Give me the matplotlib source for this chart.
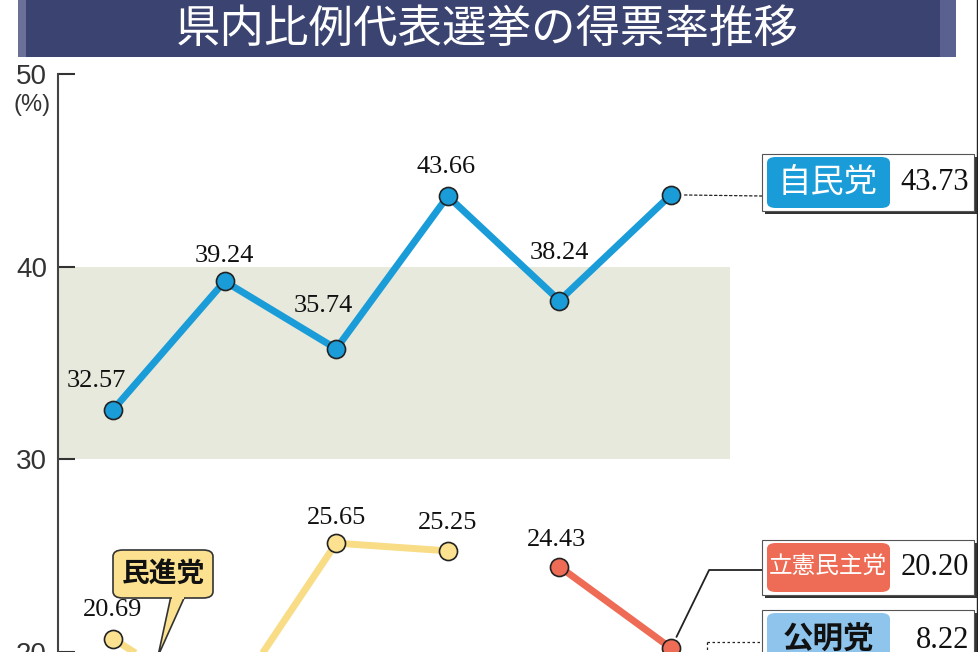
import matplotlib
matplotlib.use("Agg")
import matplotlib.pyplot as plt
from matplotlib.patches import Rectangle, FancyBboxPatch, Polygon
from matplotlib.lines import Line2D

plt.rcParams['font.family'] = ['Noto Sans CJK JP', 'DejaVu Sans']

# six elections (x positions only, no labels in the chart)
elections = [0, 1, 2, 3, 4, 5]

ldp = [32.57, 39.24, 35.74, 43.66, 38.24, 43.73]
minshin = [20.69, 17.0, 25.65, 25.25]     # 2nd value runs off the chart (estimated)
cdp = [24.43, 20.20]
komei_latest = 8.22

yticks = [20, 30, 40, 50]

title = "県内比例代表選挙の得票率推移"

# colours
C_LDP = "#1a9cd8"
C_MIN_LINE = "#f8dc86"
C_MIN_DOT = "#fce290"
C_CDP = "#ee6c55"
C_KOMEI = "#8fc4ec"
C_BAND = "#e6e9dc"
C_NAVY = "#3b4371"

W, H = 979, 652
fig = plt.figure(figsize=(W / 100, H / 100), dpi=100)


def fx(px):
    return px / W


def fy(py):
    return 1 - py / H


# axes: spine at x=58px, top (50%) at y=74px, bottom at image edge
ax = fig.add_axes([fx(58), 0, 1 - fx(58), fy(74)])
ax.set_xlim(-0.493, 7.76)
ax.set_ylim(20.206, 50)
ax.patch.set_alpha(0)
for s in ["top", "right", "bottom"]:
    ax.spines[s].set_visible(False)
ax.spines["left"].set_color("#444444")
ax.spines["left"].set_linewidth(1.5)
ax.set_xticks([])
ax.set_yticks(yticks)
ax.tick_params(axis="y", direction="in", length=12, width=1.5, color="#333333",
               pad=8, labelsize=20, labelcolor="#333333")
for lab in ax.get_yticklabels():
    lab.set_family("Liberation Sans")
ax.text(-0.56, 48.4, "(%)", ha="right", va="center", fontsize=17,
        color="#333333", family="Liberation Sans")

# shaded band 30-40
ax.axhspan(30, 40, xmin=0, xmax=(730 - 58) / 921, color=C_BAND, zorder=0, lw=0)

line_kw = dict(lw=5, marker="o", markersize=13, markeredgecolor="#222222",
               markeredgewidth=1.2, solid_capstyle="butt")
ax.plot(elections[:4], minshin, color=C_MIN_LINE, markerfacecolor=C_MIN_DOT,
        zorder=3, **line_kw)
ax.plot(elections[4:], cdp, color=C_CDP, markerfacecolor=C_CDP, zorder=3, **line_kw)
ax.plot(elections, ldp, color=C_LDP, markerfacecolor=C_LDP, zorder=4, **line_kw)

# value labels (offsets in points)
num_kw = dict(textcoords="offset points", ha="center", va="center",
              fontsize=19, family="Liberation Serif", color="#111111", zorder=5)
ldp_off = [(-12, 21), (0, 18), (-9, 31), (-1, 21), (0, 34)]
for x, v, off in zip(elections[:5], ldp[:5], ldp_off):
    ax.annotate(f"{v:.2f}", (x, v), xytext=off, **num_kw)
min_off = [(0, 21), (0, 18), (0, 20)]
for x, v, off in zip([0, 2, 3], [minshin[0], minshin[2], minshin[3]], min_off):
    ax.annotate(f"{v:.2f}", (x, v), xytext=off, **num_kw)
ax.annotate(f"{cdp[0]:.2f}", (4, cdp[0]), xytext=(-2, 19), **num_kw)


# right-hand labelled boxes
def party_box(top, bottom, name, value, color, text_color, name_size, bold=False):
    fig.add_artist(Rectangle((fx(765), fy(bottom + 3)), fx(212), fy(top) - fy(bottom),
                             transform=fig.transFigure, color="#333333", lw=0, zorder=6))
    fig.add_artist(Rectangle((fx(762), fy(bottom)), fx(212), fy(top) - fy(bottom),
                             transform=fig.transFigure, facecolor="white",
                             edgecolor="#555555", lw=0.8, zorder=7))
    fig.add_artist(FancyBboxPatch((fx(767), fy(bottom - 3)), fx(123), fy(top + 3) - fy(bottom - 3),
                                  boxstyle="round,pad=0,rounding_size=0.009",
                                  transform=fig.transFigure, color=color, lw=0, zorder=8))
    cy = fy((top + bottom) / 2)
    fig.text(fx(828), cy, name, ha="center", va="center", color=text_color,
             fontsize=name_size, weight="bold" if bold else "normal", zorder=9)
    fig.text(fx(969), cy, value, ha="right", va="center", color="#111111",
             fontsize=22, family="Liberation Serif", zorder=9)


party_box(154, 211, "自民党", f"{ldp[-1]:.2f}", C_LDP, "white", 24)
party_box(540, 595, "立憲民主党", f"{cdp[-1]:.2f}", C_CDP, "white", 17)
party_box(610, 670, "公明党", f"{komei_latest:.2f}", C_KOMEI, "#111111", 22, bold=True)

# connectors
ax.annotate("", (5, ldp[-1]), xytext=(762, H - 196), textcoords="figure pixels",
            arrowprops=dict(arrowstyle="-", ls=(0, (2, 2)), lw=0.9, color="#222222",
                            shrinkA=0, shrinkB=9))
ax.annotate("", (5, cdp[-1]), xytext=(762, H - 570), textcoords="figure pixels",
            arrowprops=dict(arrowstyle="-", lw=1.3, color="#222222", shrinkA=0, shrinkB=9,
                            connectionstyle="angle,angleA=0,angleB=64,rad=0"))
fig.add_artist(Line2D([fx(707), fx(762)], [fy(642), fy(642)], transform=fig.transFigure,
                      ls=(0, (2, 2)), lw=0.9, color="#222222"))
fig.add_artist(Line2D([fx(707), fx(707)], [fy(642), fy(660)], transform=fig.transFigure,
                      ls=(0, (2, 2)), lw=0.9, color="#222222"))

# 民進党 callout
fig.add_artist(Polygon([(fx(171), fy(596)), (fx(185), fy(596)), (fx(158), fy(656))],
                       closed=True, transform=fig.transFigure, facecolor=C_MIN_DOT,
                       edgecolor="#333333", lw=1.2, zorder=6))
fig.add_artist(FancyBboxPatch((fx(113), fy(598)), fx(100), fy(550) - fy(598),
                              boxstyle="round,pad=0,rounding_size=0.01",
                              transform=fig.transFigure, facecolor=C_MIN_DOT,
                              edgecolor="#333333", lw=1.2, zorder=7))
fig.add_artist(Rectangle((fx(172), fy(598.5)), fx(12), fy(596) - fy(598.5),
                         transform=fig.transFigure, color=C_MIN_DOT, lw=0, zorder=8))
fig.text(fx(163), fy(574), "民進党", ha="center", va="center", fontsize=20,
         weight="bold", color="#111111", zorder=9)

# title bar
fig.add_artist(Rectangle((fx(18), fy(57)), fx(938), fy(0) - fy(57),
                         transform=fig.transFigure, color=C_NAVY, lw=0, zorder=1))
fig.add_artist(Rectangle((fx(18), fy(57)), fx(8), fy(0) - fy(57),
                         transform=fig.transFigure, color="#6a7098", lw=0, zorder=1))
fig.add_artist(Rectangle((fx(940), fy(57)), fx(16), fy(0) - fy(57),
                         transform=fig.transFigure, color="#5a6190", lw=0, zorder=1))
fig.text(fx(487), fy(29), title, ha="center", va="center", fontsize=32,
         color="white", zorder=2)

# thin frame line at the right edge
fig.add_artist(Line2D([fx(977), fx(977)], [0, 1], transform=fig.transFigure,
                      lw=1, color="#222222"))

fig.savefig("out.png", dpi=100)
